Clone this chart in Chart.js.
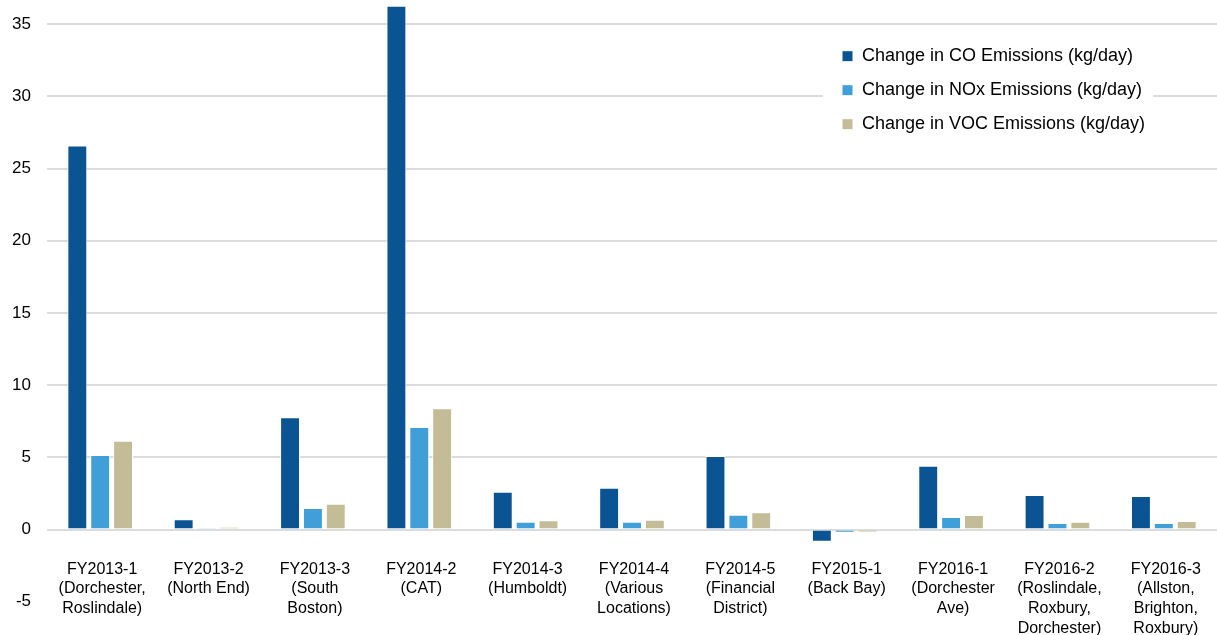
<!DOCTYPE html>
<html>
<head>
<meta charset="utf-8">
<script src="https://cdn.jsdelivr.net/npm/chart.js@4/dist/chart.umd.min.js"></script>
<style>
  html, body { margin: 0; padding: 0; background: #ffffff; }
  #wrap { width: 1217px; height: 635px; }
  canvas { display: block; }
</style>
</head>
<body>
<div id="wrap"><canvas id="chart" width="1217" height="635"></canvas></div>
<script>
// Project labels (multi-line) along the category axis
const categories = [
  ['FY2013-1', '(Dorchester,', 'Roslindale)'],
  ['FY2013-2', '(North End)'],
  ['FY2013-3', '(South', 'Boston)'],
  ['FY2014-2', '(CAT)'],
  ['FY2014-3', '(Humboldt)'],
  ['FY2014-4', '(Various', 'Locations)'],
  ['FY2014-5', '(Financial', 'District)'],
  ['FY2015-1', '(Back Bay)'],
  ['FY2016-1', '(Dorchester', 'Ave)'],
  ['FY2016-2', '(Roslindale,', 'Roxbury,', 'Dorchester)'],
  ['FY2016-3', '(Allston,', 'Brighton,', 'Roxbury)']
];

// Emission changes per project, kg/day
const coChange  = [26.6, 0.71, 7.78, 36.28, 2.62, 2.9, 5.09, -0.85, 4.42, 2.39, 2.32];
const noxChange = [5.16, 0.10, 1.49, 7.10, 0.54, 0.54, 1.03, -0.22, 0.87, 0.45, 0.45];
const vocChange = [6.15, 0.17, 1.79, 8.40, 0.64, 0.68, 1.19, -0.20, 1.00, 0.54, 0.59];

const seriesNames = [
  'Change in CO Emissions (kg/day)',
  'Change in NOx Emissions (kg/day)',
  'Change in VOC Emissions (kg/day)'
];

// Value axis range and step
const yMin = -5;
const yMax = 36.68;
const yStep = 5;

const FONT = "'Liberation Sans', Arial, sans-serif";

// Places the legend inside the plot, top right, on a white backdrop
const legendPlacer = {
  id: 'legendPlacer',
  afterLayout(chart) {
    const lg = chart.legend;
    if (!lg) return;
    lg.left = 826;
    lg.top = 31.2;
    lg.right = lg.left + lg.width;
    lg.bottom = lg.top + lg.height;
    if (!lg._withBackdrop) {
      const baseDraw = lg.draw;
      lg.draw = function (area) {
        const ctx = this.ctx;
        ctx.save();
        ctx.fillStyle = '#ffffff';
        ctx.fillRect(823, 38, 330, 104);
        ctx.restore();
        baseDraw.call(this, area);
      };
      lg._withBackdrop = true;
    }
  }
};

new Chart(document.getElementById('chart'), {
  type: 'bar',
  data: {
    labels: categories,
    datasets: [
      { label: seriesNames[0], data: coChange,  backgroundColor: '#0b5494' },
      { label: seriesNames[1], data: noxChange, backgroundColor: '#409ed8' },
      { label: seriesNames[2], data: vocChange, backgroundColor: '#c4bc96' }
    ]
  },
  options: {
    responsive: false,
    animation: false,
    devicePixelRatio: 1,
    layout: { padding: { left: 0, top: 0, right: -7, bottom: 33.3 } },
    datasets: {
      bar: {
        categoryPercentage: 0.645,
        barPercentage: 0.87,
        borderColor: '#ffffff',
        borderWidth: 1
      }
    },
    scales: {
      x: {
        type: 'category',
        position: { y: 0 },
        offset: true,
        grid: { display: false, drawTicks: false },
        border: { display: false },
        ticks: {
          autoSkip: false,
          maxRotation: 0,
          minRotation: 0,
          padding: 30,
          labelOffset: 2,
          color: '#000000',
          font: { family: FONT, size: 16, lineHeight: 1.23 }
        },
        afterFit(s) { s.paddingLeft = 0; s.paddingRight = 0; s.paddingTop = 0; s.paddingBottom = 0; }
      },
      y: {
        type: 'linear',
        min: yMin,
        max: yMax,
        grid: {
          // no rule along the bottom (-5) edge
          color: (ctx) => (ctx.tick && ctx.tick.value === yMin ? 'rgba(0,0,0,0)' : '#dcdcdc'),
          lineWidth: 2,
          drawTicks: false,
          z: -1
        },
        border: { display: false },
        ticks: {
          stepSize: yStep,
          includeBounds: false,
          padding: 16,
          color: '#000000',
          font: { family: FONT, size: 17 }
        },
        afterFit(s) { s.width = 47; s.paddingTop = 0; s.paddingBottom = 0; }
      }
    },
    plugins: {
      legend: {
        display: true,
        position: 'chartArea',
        align: 'start',
        labels: {
          boxWidth: 11,
          boxHeight: 11,
          padding: 16,
          color: '#000000',
          font: { family: FONT, size: 18 }
        }
      },
      tooltip: { enabled: false }
    }
  },
  plugins: [legendPlacer]
});
</script>
</body>
</html>
